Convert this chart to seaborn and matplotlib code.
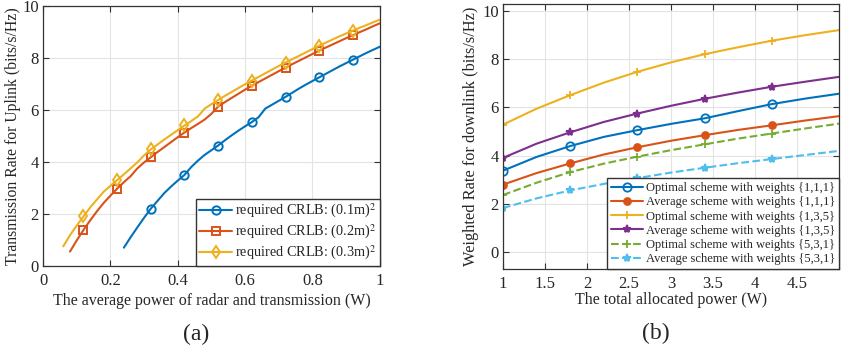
import numpy as np
import pandas as pd
import matplotlib
matplotlib.use("Agg")
import matplotlib.pyplot as plt
import seaborn as sns

# ---- panel (a): uplink rate vs average power ----
x_01 = [0.24, 0.26, 0.28, 0.30, 0.32, 0.34, 0.36, 0.38, 0.40, 0.42, 0.44, 0.46, 0.48,
        0.50, 0.52, 0.54, 0.56, 0.58, 0.60, 0.62, 0.64, 0.66, 0.68, 0.70, 0.72, 0.74,
        0.76, 0.78, 0.80, 0.82, 0.84, 0.86, 0.88, 0.90, 0.92, 0.94, 0.96, 0.98, 1.00]
y_01 = [0.70, 1.10, 1.48, 1.85, 2.20, 2.50, 2.80, 3.05, 3.28, 3.50, 3.80, 4.05, 4.27,
        4.45, 4.63, 4.83, 5.02, 5.20, 5.37, 5.53, 5.72, 6.05, 6.20, 6.35, 6.50, 6.66,
        6.82, 6.97, 7.11, 7.25, 7.39, 7.53, 7.67, 7.80, 7.93, 8.06, 8.19, 8.31, 8.43]

x_02 = [0.08, 0.10, 0.12, 0.14, 0.16, 0.18, 0.20, 0.22, 0.24, 0.26, 0.28, 0.30, 0.32,
        0.34, 0.36, 0.38, 0.40, 0.42, 0.44, 0.46, 0.48, 0.50, 0.52, 0.54, 0.56, 0.58,
        0.60, 0.62, 0.64, 0.66, 0.68, 0.70, 0.72, 0.74, 0.76, 0.78, 0.80, 0.82, 0.84,
        0.86, 0.88, 0.90, 0.92, 0.94, 0.96, 0.98, 1.00]
y_02 = [0.55, 0.98, 1.38, 1.75, 2.10, 2.42, 2.70, 2.97, 3.22, 3.45, 3.75, 3.98, 4.18,
        4.38, 4.57, 4.76, 4.95, 5.13, 5.30, 5.46, 5.63, 5.85, 6.13, 6.30, 6.46, 6.62,
        6.78, 6.93, 7.07, 7.21, 7.35, 7.49, 7.62, 7.76, 7.89, 8.02, 8.15, 8.28, 8.40,
        8.52, 8.64, 8.76, 8.87, 8.99, 9.10, 9.22, 9.33]

x_03 = [0.06, 0.08, 0.10, 0.12, 0.14, 0.16, 0.18, 0.20, 0.22, 0.24, 0.26, 0.28, 0.30,
        0.32, 0.34, 0.36, 0.38, 0.40, 0.42, 0.44, 0.46, 0.48, 0.50, 0.52, 0.54, 0.56,
        0.58, 0.60, 0.62, 0.64, 0.66, 0.68, 0.70, 0.72, 0.74, 0.76, 0.78, 0.80, 0.82,
        0.84, 0.86, 0.88, 0.90, 0.92, 0.94, 0.96, 0.98, 1.00]
y_03 = [0.75, 1.18, 1.55, 1.90, 2.25, 2.55, 2.85, 3.08, 3.30, 3.52, 3.75, 3.98, 4.25,
        4.48, 4.67, 4.86, 5.04, 5.22, 5.40, 5.57, 5.75, 6.05, 6.22, 6.38, 6.54, 6.69,
        6.84, 6.99, 7.13, 7.27, 7.41, 7.55, 7.69, 7.82, 7.95, 8.08, 8.21, 8.34, 8.47,
        8.59, 8.71, 8.83, 8.94, 9.05, 9.16, 9.26, 9.37, 9.47]

# ---- panel (b): weighted downlink rate vs total power ----
power = [1.0, 1.4, 1.8, 2.2, 2.6, 3.0, 3.4, 3.8, 4.2, 4.6, 5.0]
opt_111 = [3.38, 3.95, 4.40, 4.78, 5.06, 5.32, 5.55, 5.85, 6.14, 6.37, 6.57]
avg_111 = [2.80, 3.28, 3.68, 4.05, 4.35, 4.62, 4.85, 5.07, 5.26, 5.46, 5.64]
opt_135 = [5.29, 5.95, 6.51, 7.03, 7.48, 7.87, 8.21, 8.50, 8.77, 9.00, 9.21]
avg_135 = [3.91, 4.50, 4.97, 5.40, 5.75, 6.07, 6.36, 6.62, 6.86, 7.07, 7.27]
opt_531 = [2.37, 2.88, 3.32, 3.67, 3.96, 4.23, 4.47, 4.71, 4.92, 5.13, 5.33]
avg_531 = [1.83, 2.23, 2.56, 2.83, 3.07, 3.30, 3.50, 3.69, 3.86, 4.03, 4.20]

C_BLUE, C_ORANGE, C_YELLOW = "#0072BD", "#D95319", "#EDB120"
C_PURPLE, C_GREEN, C_CYAN = "#7E2F8E", "#77AC30", "#4DBEEE"
TXT = "#262626"

sns.set_style("whitegrid")
plt.rcParams["font.family"] = ["Liberation Serif", "DejaVu Serif"]
plt.rcParams["mathtext.fontset"] = "stix"
plt.rcParams["font.size"] = 11
plt.rcParams["text.color"] = TXT
plt.rcParams["axes.labelcolor"] = TXT

fig = plt.figure(figsize=(8.44, 3.48), dpi=100)
ax1 = fig.add_axes([0.051, 0.236, 0.399, 0.747])
ax2 = fig.add_axes([0.596, 0.227, 0.398, 0.762])

# panel (a)
left_series = [
    (x_01, y_01, C_BLUE, "o", (4, 5), "required CRLB: (0.1m)$^2$"),
    (x_02, y_02, C_ORANGE, "s", (2, 5), "required CRLB: (0.2m)$^2$"),
    (x_03, y_03, C_YELLOW, "d", (3, 5), "required CRLB: (0.3m)$^2$"),
]
for xs, ys, col, mk, mev, lab in left_series:
    df = pd.DataFrame({"x": xs, "y": ys})
    sns.lineplot(data=df, x="x", y="y", ax=ax1, color=col, lw=1.5, marker=mk,
                 markevery=mev, markersize=6, markerfacecolor="none",
                 markeredgecolor=col, markeredgewidth=1.4, label=lab)

ax1.set_xlim(0, 1)
ax1.set_ylim(0, 10)
ax1.set_xticks(np.arange(0, 1.01, 0.2))
ax1.set_xticklabels(["0", "0.2", "0.4", "0.6", "0.8", "1"])
ax1.set_yticks(np.arange(0, 11, 2))
ax1.set_xlabel("The average power of radar and transmission (W)", fontsize=11.5, labelpad=3)
ax1.set_ylabel("Transmission Rate for Uplink (bits/s/Hz)", fontsize=11.3, labelpad=1)
ax1.legend(loc="lower right", borderaxespad=0, fancybox=False, edgecolor="#333333",
           framealpha=1, fontsize=10.3, handlelength=2.3, borderpad=0.25,
           labelspacing=0.2, handletextpad=0.2)

# panel (b)
right_series = [
    (opt_111, C_BLUE, "o", "-", "Optimal scheme with weights {1,1,1}"),
    (avg_111, C_ORANGE, ".", "-", "Average scheme with weights {1,1,1}"),
    (opt_135, C_YELLOW, "+", "-", "Optimal scheme with weights {1,3,5}"),
    (avg_135, C_PURPLE, "*", "-", "Average scheme with weights {1,3,5}"),
    (opt_531, C_GREEN, "+", "--", "Optimal scheme with weights {5,3,1}"),
    (avg_531, C_CYAN, "*", "--", "Average scheme with weights {5,3,1}"),
]
for ys, col, mk, ls, lab in right_series:
    df = pd.DataFrame({"p": power, "r": ys})
    fc = "none" if mk == "o" else col
    ms = 10 if mk == "." else 6
    sns.lineplot(data=df, x="p", y="r", ax=ax2, color=col, lw=1.5, linestyle=ls,
                 marker=mk, markevery=[0, 2, 4, 6, 8], markersize=ms,
                 markerfacecolor=fc, markeredgecolor=col, markeredgewidth=1.3,
                 label=lab)

ax2.set_xlim(1, 5)
ax2.set_ylim(-0.7, 10.3)
ax2.set_xticks(np.arange(1, 4.6, 0.5))
ax2.set_xticklabels(["1", "1.5", "2", "2.5", "3", "3.5", "4", "4.5"])
ax2.set_yticks(np.arange(0, 11, 2))
ax2.set_xlabel("The total allocated power (W)", fontsize=11.5, labelpad=0)
ax2.set_ylabel("Weighted Rate for downlink (bits/s/Hz)", fontsize=11.8, labelpad=2)
ax2.legend(loc="lower right", borderaxespad=0, fancybox=False, edgecolor="#333333",
           framealpha=1, fontsize=9.0, handlelength=2.6, borderpad=0.3,
           labelspacing=0.18, handletextpad=0.2)

for ax in (ax1, ax2):
    ax.grid(True, color="#e3e3e3", lw=0.8)
    ax.tick_params(direction="in", length=4, color="#333333", labelsize=12,
                   labelcolor=TXT, top=True, right=True, bottom=True, left=True)
    ax.tick_params(axis="x", pad=5)
    ax.tick_params(axis="y", pad=3)
    for s in ax.spines.values():
        s.set_color("#333333")
        s.set_linewidth(0.9)

fig.text(0.232, 0.040, "(a)", ha="center", va="center", fontsize=17)
fig.text(0.777, 0.043, "(b)", ha="center", va="center", fontsize=17)

fig.savefig("out.png", dpi=100)
